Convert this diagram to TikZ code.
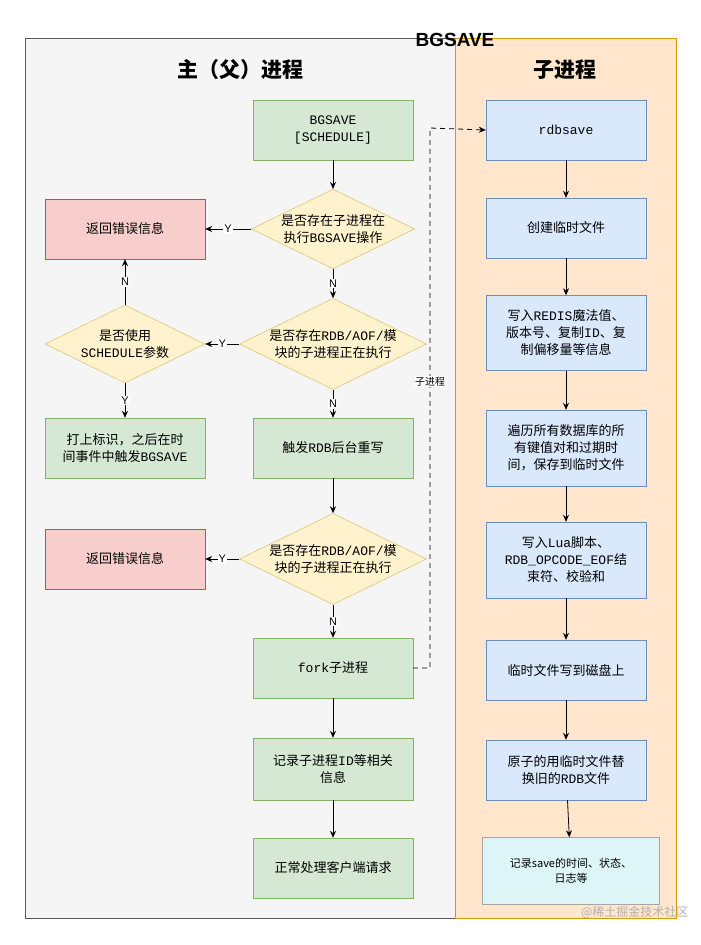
\documentclass[tikz,border=0pt]{standalone}
\usepackage{fontspec}
\setmainfont{Noto Sans CJK SC}
\setmonofont{Liberation Mono}
\newfontfamily\hv{Liberation Sans}
\usetikzlibrary{shapes.geometric,arrows.meta}
\definecolor{gfill}{HTML}{D5E8D4}\definecolor{gdraw}{HTML}{82B366}
\definecolor{rfill}{HTML}{F8CECC}\definecolor{rdraw}{HTML}{B85450}
\definecolor{yfill}{HTML}{FFF2CC}\definecolor{ydraw}{HTML}{D6B656}
\definecolor{bfill}{HTML}{DAE8FC}\definecolor{bdraw}{HTML}{6C8EBF}
\definecolor{cfill}{HTML}{DDF5F7}\definecolor{ofill}{HTML}{FFE6CC}\definecolor{odraw}{HTML}{D79B00}
\tikzset{
 x=1pt,y=-1pt,
 base/.style={minimum width=160pt,align=center,font=\fontsize{13}{17}\selectfont,inner sep=2pt},
 g/.style={base,rectangle,fill=gfill,draw=gdraw,minimum height=60pt},
 r/.style={base,rectangle,fill=rfill,draw=rdraw,minimum height=60pt},
 b/.style={base,rectangle,fill=bfill,draw=bdraw,minimum height=60pt},
 d/.style={base,diamond,aspect=2.05,fill=yfill,draw=ydraw,inner sep=0pt,minimum width=160pt,minimum height=78pt},
 ar/.style={-{Stealth[length=7pt,width=6pt]},thick},
 lb/.style={fill=white,inner sep=1pt,font=\fontsize{11}{12}\selectfont\hv}
}
\begin{document}
\begin{tikzpicture}
\useasboundingbox (0,0) rectangle (701,945);
\fill[white] (0,0) rectangle (701,945);
\draw[fill=gray!8,draw=gray!70!black] (25,38) rectangle (455,918);
\draw[fill=ofill,draw=odraw] (455,38) rectangle (676,918);
\node[font=\hv\bfseries\fontsize{19}{20}\selectfont] (t) at (455,40) {BGSAVE};
\node[font=\bfseries\fontsize{21}{22}\selectfont] (t1) at (240,70) {主（父）进程};
\node[font=\bfseries\fontsize{21}{22}\selectfont] (t2) at (565,70) {子进程};
% left main
\node[g] (a) at (333,130) {\texttt{BGSAVE}\\\texttt{[SCHEDULE]}};
\node[d] (d1) at (333,229) {是否存在子进程在\\执行\texttt{BGSAVE}操作};
\node[d] (d2) at (333,344) {是否存在\texttt{RDB/AOF/}模\\块的子进程正在执行};
\node[g] (c) at (333,448) {触发\texttt{RDB}后台重写};
\node[d] (d3) at (333,559) {是否存在\texttt{RDB/AOF/}模\\块的子进程正在执行};
\node[g] (f) at (333,668) {\texttt{fork}子进程};
\node[g,minimum height=62pt] (rec) at (333,769) {记录子进程\texttt{ID}等相关\\信息};
\node[g] (n) at (333,868) {正常处理客户端请求};
% left side
\node[r] (e1) at (125,229) {返回错误信息};
\node[d] (ds) at (125,344) {是否使用\\\texttt{SCHEDULE}参数};
\node[g] (m) at (125,448) {打上标识，之后在时\\间事件中触发\texttt{BGSAVE}};
\node[r] (e2) at (125,559) {返回错误信息};
% right
\node[b] (s1) at (566,130) {\texttt{rdbsave}};
\node[b] (s2) at (566,228) {创建临时文件};
\node[b,minimum height=75pt] (s3) at (566,333) {写入\texttt{REDIS}魔法值、\\版本号、复制\texttt{ID}、复\\制偏移量等信息};
\node[b,minimum height=76pt] (s4) at (566,448) {遍历所有数据库的所\\有键值对和过期时\\间，保存到临时文件};
\node[b,minimum height=76pt] (s5) at (566,560) {写入\texttt{Lua}脚本、\\\texttt{RDB\_OPCODE\_EOF}结\\束符、校验和};
\node[b] (s6) at (566,670) {临时文件写到磁盘上};
\node[b] (s7) at (566,770) {原子的用临时文件替\\换旧的\texttt{RDB}文件};
\node[base,fill=cfill,draw=gray!70,minimum width=177pt,minimum height=67pt,font=\fontsize{11}{15}\selectfont] (s8) at (571,871) {记录save的时间、状态、\\日志等};
% arrows
\draw[ar] (a) -- (d1);
\draw[ar] (d1) -- node[lb]{N} (d2);
\draw[ar] (d2) -- node[lb]{N} (c);
\draw[ar] (c) -- (d3);
\draw[ar] (d3) -- node[lb]{N} (f);
\draw[ar] (f) -- (rec);
\draw[ar] (rec) -- (n);
\draw[ar] (d1) -- node[lb]{Y} (e1);
\draw[ar] (d2) -- node[lb]{Y} (ds);
\draw[ar] (ds) -- node[lb]{N} (e1);
\draw[ar] (ds) -- node[lb]{Y} (m);
\draw[ar] (d3) -- node[lb]{Y} (e2);
\draw[ar] (s1) -- (s2);
\draw[ar] (s2) -- (s3);
\draw[ar] (s3) -- (s4);
\draw[ar] (s4) -- (s5);
\draw[ar] (s5) -- (s6);
\draw[ar] (s6) -- (s7);
\draw[ar] (s7) -- (s8);
\coordinate (k1) at (430,668);
\coordinate (k2) at (430,128);
\draw[ar,dashed,dash pattern=on 5pt off 4pt] (f.east) -- (k1) -- node[pos=0.53,lb,font=\fontsize{10}{11}\selectfont]{子进程} (k2) -- (s1.west);
\node[text=gray!60,font=\fontsize{12}{13}\selectfont,anchor=east] (wm) at (692,912) {@稀土掘金技术社区};
\end{tikzpicture}
\end{document}
